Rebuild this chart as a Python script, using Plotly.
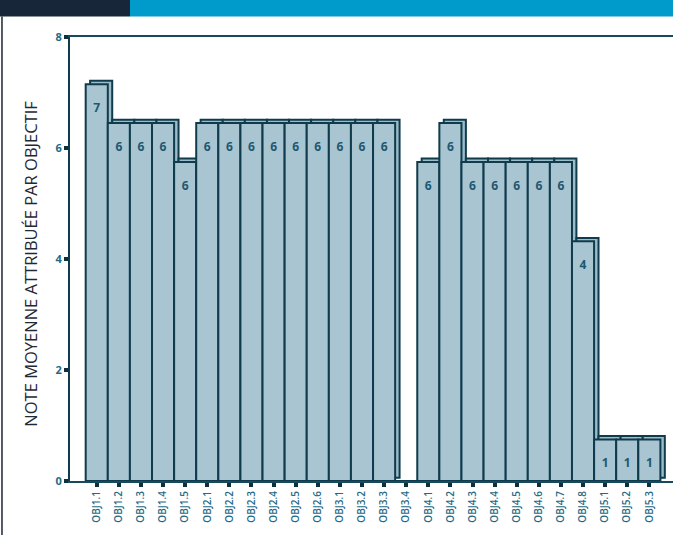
import plotly.graph_objects as go

# Objectives and their average scores
objectifs = [
    "OBJ1.1", "OBJ1.2", "OBJ1.3", "OBJ1.4", "OBJ1.5",
    "OBJ2.1", "OBJ2.2", "OBJ2.3", "OBJ2.4", "OBJ2.5", "OBJ2.6",
    "OBJ3.1", "OBJ3.2", "OBJ3.3", "OBJ3.4",
    "OBJ4.1", "OBJ4.2", "OBJ4.3", "OBJ4.4", "OBJ4.5", "OBJ4.6", "OBJ4.7", "OBJ4.8",
    "OBJ5.1", "OBJ5.2", "OBJ5.3",
]
notes = [
    7.15, 6.45, 6.45, 6.45, 5.75,
    6.45, 6.45, 6.45, 6.45, 6.45, 6.45,
    6.45, 6.45, 6.45, 0.0,
    5.75, 6.45, 5.75, 5.75, 5.75, 5.75, 5.75, 4.32,
    0.75, 0.75, 0.75,
]
y_ticks = [0, 2, 4, 6, 8]

# rounded score printed inside each bar (nothing for an empty bar)
labels = [str(round(v)) if round(v) > 0 else "" for v in notes]

FILL = "#A8C5D1"
EDGE = "#0F3B4C"
TEAL = "#1F6A86"
DEPTH_X = 0.2   # depth of the pseudo-3D side, in category units
DEPTH_Y = 0.06  # depth of the pseudo-3D top, in score units

# only bars with a height get the depth effect
back_notes = [v if v > 0 else None for v in notes]

fig = go.Figure()

# back faces (shifted up/right) give the bars their depth
fig.add_trace(go.Bar(
    x=objectifs, y=back_notes, base=DEPTH_Y,
    offset=-0.5 + DEPTH_X, width=1,
    marker=dict(color="#9DBCCA", line=dict(color=EDGE, width=2)),
    hoverinfo="skip", showlegend=False,
))
# front faces
fig.add_trace(go.Bar(
    x=objectifs, y=notes, width=1,
    marker=dict(color=FILL, line=dict(color=EDGE, width=2)),
    showlegend=False,
))
# value labels near the top of each bar
fig.add_trace(go.Scatter(
    x=objectifs, y=[v - 0.45 for v in notes], text=labels,
    mode="text", textposition="middle center",
    textfont=dict(family="Open Sans", size=12, color="#1E5870", weight="bold"),
    hoverinfo="skip", showlegend=False,
))

fig.update_layout(
    width=673, height=535,
    margin=dict(l=70, r=0, t=37, b=54),
    paper_bgcolor="white", plot_bgcolor="white",
    barmode="overlay",
    font=dict(family="Open Sans"),
    xaxis=dict(
        type="category", range=[-1.21, 26.07],
        showline=True, linecolor="#164B5E", linewidth=2, mirror=True,
        ticks="outside", ticklen=4, tickwidth=4, tickcolor="#0F2F3C",
        tickangle=-90, tickfont=dict(size=10, color=TEAL, weight=600),
        showgrid=False, zeroline=False,
    ),
    yaxis=dict(
        range=[0, 8], tickvals=y_ticks,
        showline=True, linecolor="#0F3B4C", linewidth=2,
        ticks="outside", ticklen=4, tickwidth=4, tickcolor="#0F2F3C",
        tickfont=dict(size=11, color=TEAL, weight="bold"),
        showgrid=False, zeroline=False,
    ),
    annotations=[dict(
        text="NOTE MOYENNE ATTRIBUÉE PAR OBJECTIF",
        xref="paper", yref="paper", x=-0.066, y=0.49,
        xanchor="center", yanchor="middle",
        textangle=-90, showarrow=False,
        font=dict(family="Open Sans", size=16.5, color="#1E2A36"),
    )],
    shapes=[
        # header band
        dict(type="rect", xref="paper", yref="paper",
             x0=-0.117, x1=0.0995, y0=1.046, y1=1.09,
             fillcolor="#18263A", line=dict(width=0)),
        dict(type="rect", xref="paper", yref="paper",
             x0=0.0995, x1=1.0, y0=1.046, y1=1.09,
             fillcolor="#009BCB", line=dict(width=0)),
        # page border on the left
        dict(type="line", xref="paper", yref="paper",
             x0=-0.1128, x1=-0.1128, y0=-0.125, y1=1.046,
             line=dict(color="#1A2633", width=1.5)),
    ],
)

fig.write_html("out.html")
